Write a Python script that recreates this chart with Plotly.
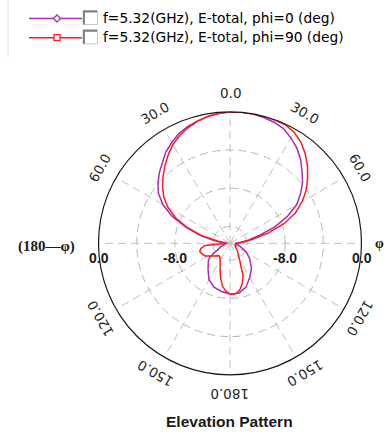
import math
import plotly.graph_objects as go

W, H = 387, 432

# ---------------- data (dB, theta in degrees) ----------------
theta_phi0 = [-180, -170, -160, -150, -140, -130, -125, -120, -110, -100, -90, -85, -80, -75,
              -70, -65, -60, -55, -50, -45, -40, -35, -30, -25, -20, -15, -10, -5, 0, 5,
              10, 15, 20, 25, 30, 35, 40, 45, 50, 55, 60, 65, 70, 75, 80, 85, 90, 100,
              110, 118, 128, 140, 150, 160, 170, 180]
db_phi0 = [-8.46, -8.65, -8.89, -9.37, -10.20, -10.82, -11.16, -11.99, -12.82, -13.23, -13.37,
           -12.82, -11.99, -10.47, -8.89, -7.10, -5.65, -4.62, -3.93, -3.31, -2.76, -2.07,
           -1.58, -1.10, -0.76, -0.52, -0.30, -0.14, -0.03, 0.00, -0.03, -0.14, -0.28, -0.52,
           -1.03, -1.58, -2.27, -3.10, -3.86, -4.75, -5.72, -7.17, -8.82, -10.61, -11.85,
           -12.75, -13.23, -12.95, -12.54, -11.85, -11.16, -10.28, -9.65, -8.89, -8.47, -8.46]

theta_phi90 = [-180, -175, -170, -165, -160, -155, -150, -145, -140, -135, -130, -125, -117,
               -110, -105, -100, -95, -90, -85, -80, -75, -70, -65, -60, -55, -50, -45, -40,
               -35, -30, -25, -20, -15, -10, -5, 0, 5, 10, 15, 20, 25, 30, 35, 40, 45, 50,
               55, 60, 65, 70, 75, 80, 85, 90, 95, 105, 115, 125, 135, 145, 150, 155, 158,
               163, 168, 172, 176, 180]
db_phi90 = [-8.47, -8.75, -9.23, -9.99, -10.76, -11.33, -11.71, -11.92, -12.04, -11.92, -11.70,
            -11.45, -10.87, -10.61, -10.50, -10.68, -11.16, -13.50, -13.37, -12.61, -10.75,
            -9.09, -7.51, -6.27, -5.31, -4.55, -3.86, -3.17, -2.48, -1.82, -1.31, -0.90,
            -0.55, -0.28, -0.10, 0.00, 0.00, 0.00, 0.00, -0.03, -0.07, -0.34, -0.83, -1.52,
            -2.30, -3.17, -4.02, -5.03, -6.20, -7.72, -9.65, -11.44, -12.40, -12.95, -13.09,
            -13.23, -13.09, -13.09, -12.68, -12.20, -11.78, -11.02, -10.13, -9.37, -8.79,
            -8.54, -8.42, -8.47]

series_names = ["f=5.32(GHz), E-total, phi=0 (deg)", "f=5.32(GHz), E-total, phi=90 (deg)"]
series_colors = ["#a82cb8", "#ff1a1a"]

r_min, r_max = -13.78, 0.0
radial_ticks = [-12, -8, -4, 0]
radial_labels = [(0, "0.0"), (-8, "-8.0")]
angle_ticks = [0, 30, 60, 120, 150, 180, -150, -120, -60, -30]
angle_texts = ["0.0", "30.0", "60.0", "120.0", "150.0", "180.0", "150.0", "120.0", "60.0", "30.0"]

# ---------------- layout geometry (pixels) ----------------
CX, CY, R = 230.0, 243.3, 131.5


def px(x):
    return x / W


def py(y):
    return 1 - y / H


fig = go.Figure()
for th, r, name, col in [(theta_phi0, db_phi0, series_names[0], series_colors[0]),
                         (theta_phi90, db_phi90, series_names[1], series_colors[1])]:
    fig.add_trace(go.Scatterpolar(theta=th, r=r, mode="lines", name=name,
                                  line=dict(color=col, width=1.5), showlegend=False))

fig.update_layout(
    width=W, height=H,
    margin=dict(l=0, r=0, t=0, b=0),
    paper_bgcolor="white",
    polar=dict(
        domain=dict(x=[px(CX - R), px(CX + R)], y=[py(CY + R), py(CY - R)]),
        bgcolor="white",
        angularaxis=dict(rotation=90, direction="clockwise", tickmode="array",
                         tickvals=list(range(0, 360, 30)), showticklabels=False, ticks="",
                         showline=True, linecolor="#1a1a1a", linewidth=1.2,
                         showgrid=True, gridcolor="#c0c0c0", gridwidth=1, griddash="8px,5px"),
        radialaxis=dict(range=[r_min, r_max], tickmode="array", tickvals=radial_ticks,
                        showticklabels=False, ticks="", showline=False,
                        showgrid=True, gridcolor="#b8b8b8", gridwidth=1, griddash="8px,5px"),
    ),
)

annotations = []
# angular tick labels, rotated tangentially
RL = R + 19
for a, t in zip(angle_ticks, angle_texts):
    rad = math.radians(a)
    x = CX + RL * math.sin(rad)
    y = CY - RL * math.cos(rad)
    ann = dict(x=px(x), y=py(y), xref="paper", yref="paper", text=t,
               showarrow=False, xanchor="center", yanchor="middle",
               font=dict(family="DejaVu Sans", size=13.5, color="#1e1e2a"))
    if a != 0:
        ann["textangle"] = a
    annotations.append(ann)
# radial labels on both sides
for v, t in radial_labels:
    frac = (v - r_min) / (r_max - r_min)
    for s in (-1, 1):
        annotations.append(dict(x=px(CX + s * R * frac), y=py(CY + 15), xref="paper", yref="paper",
                                text=f"<b>{t}</b>", showarrow=False, xanchor="center",
                                yanchor="middle",
                                font=dict(family="Arial, Liberation Sans", size=14, color="#1a1a1a")))
annotations.append(dict(x=px(46), y=py(246), xref="paper", yref="paper", text="<b>(180—φ)</b>",
                        showarrow=False, xanchor="center", yanchor="middle",
                        font=dict(family="Liberation Serif, DejaVu Serif", size=15, color="#1a1a1a")))
annotations.append(dict(x=px(386), y=py(243), xref="paper", yref="paper", text="<b>φ</b>",
                        showarrow=False, xanchor="right", yanchor="middle",
                        font=dict(family="Liberation Serif, DejaVu Serif", size=14, color="#1a1a1a")))
annotations.append(dict(x=px(229), y=py(421), xref="paper", yref="paper",
                        text="<b>Elevation Pattern</b>", showarrow=False, xanchor="center",
                        yanchor="middle",
                        font=dict(family="Arial, Liberation Sans", size=15.5, color="#1a1a1a")))

# manual legend
shapes = []
rows_y = [18.5, 37.7]
box_y = [17.5, 36.8]
for i, (name, col) in enumerate(zip(series_names, series_colors)):
    y = rows_y[i]
    shapes.append(dict(type="line", xref="paper", yref="paper", x0=px(29), x1=px(82),
                       y0=py(y), y1=py(y), line=dict(color=col, width=1.5)))
    if i == 0:
        path = (f"M {px(53.5)} {py(y)} L {px(57)} {py(y - 3.5)} L {px(60.5)} {py(y)} "
                f"L {px(57)} {py(y + 3.5)} Z")
        shapes.append(dict(type="path", xref="paper", yref="paper", path=path,
                           line=dict(color=col, width=1.3), fillcolor="white"))
    else:
        shapes.append(dict(type="rect", xref="paper", yref="paper", x0=px(54), x1=px(60),
                           y0=py(y + 3), y1=py(y - 3), line=dict(color=col, width=1.3),
                           fillcolor="white"))
    by = box_y[i]
    shapes.append(dict(type="rect", xref="paper", yref="paper", x0=px(83), x1=px(97.5),
                       y0=py(by + 7), y1=py(by - 7), line=dict(color="#c8c8c8", width=1),
                       fillcolor="white"))
    shapes.append(dict(type="path", xref="paper", yref="paper",
                       path=f"M {px(84)} {py(by + 7)} L {px(84)} {py(by - 6)} L {px(97)} {py(by - 6)}",
                       line=dict(color="#808080", width=2)))
    annotations.append(dict(x=px(100.5), y=py(y - 0.5), xref="paper", yref="paper", text=name,
                            showarrow=False, xanchor="left", yanchor="middle",
                            font=dict(family="DejaVu Sans", size=13.8, color="#000000")))
shapes.append(dict(type="line", xref="paper", yref="paper", x0=px(8), x1=px(8), y0=py(0),
                   y1=py(58), line=dict(color="#e4e4e4", width=1)))

fig.update_layout(annotations=annotations, shapes=shapes)
fig.write_html("out.html", config={"displayModeBar": False})
